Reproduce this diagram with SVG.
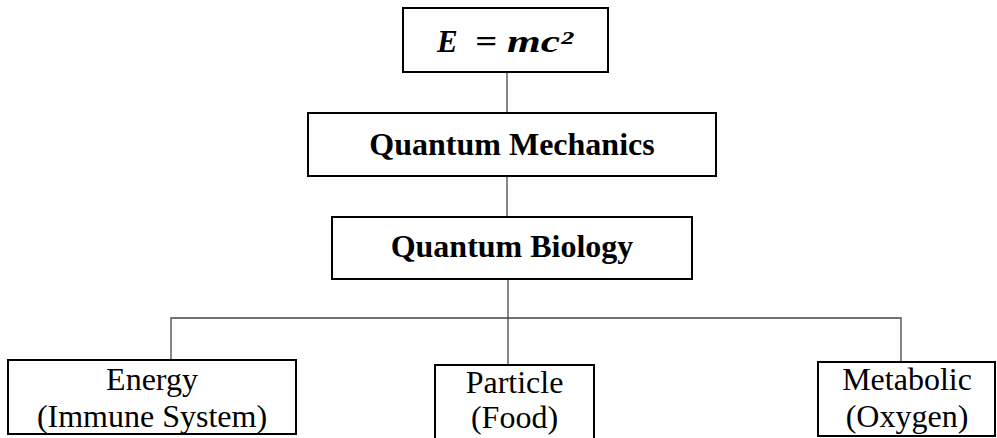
<svg xmlns="http://www.w3.org/2000/svg" width="997" height="438" viewBox="0 0 997 438">
<style>
.box{fill:#fff;stroke:#000;stroke-width:2}
.con{fill:none;stroke:#444;stroke-width:1.3}
.b{font-family:"Liberation Serif","Times New Roman",serif;font-weight:bold;font-size:32px;fill:#000;text-anchor:middle}
.r{font-family:"Liberation Serif","Times New Roman",serif;font-size:32px;fill:#000;text-anchor:middle}
.m{font-family:"Liberation Serif","Times New Roman",serif;font-weight:bold;font-style:italic;font-size:31px;fill:#000}
</style>
<rect width="997" height="438" fill="#fff"/>
<g id="connectors">
<path class="con" d="M507 72V113"/>
<path class="con" d="M507 176V217"/>
<path class="con" d="M508 279V365"/>
<path class="con" d="M171 360V318H901V362"/>
</g>
<g id="emc2">
<rect class="box" x="403" y="8" width="205" height="64"/>
<text class="m" y="52"><tspan x="437">E</tspan><tspan x="475" textLength="22" lengthAdjust="spacingAndGlyphs">=</tspan><tspan x="507" textLength="66" lengthAdjust="spacingAndGlyphs">mc²</tspan></text>
</g>
<g id="quantum-mechanics">
<rect class="box" x="308" y="113" width="408" height="63"/>
<text class="b" x="512" y="155">Quantum Mechanics</text>
</g>
<g id="quantum-biology">
<rect class="box" x="332" y="217" width="360" height="62"/>
<text class="b" x="512" y="257">Quantum Biology</text>
</g>
<g id="energy">
<rect class="box" x="8" y="360" width="288" height="74"/>
<text class="r" x="152" y="390">Energy</text>
<text class="r" x="152" y="427">(Immune System)</text>
</g>
<g id="particle">
<rect class="box" x="435" y="365" width="159" height="80"/>
<text class="r" x="514.5" y="393">Particle</text>
<text class="r" x="514.5" y="428">(Food)</text>
</g>
<g id="metabolic">
<rect class="box" x="818" y="362" width="177" height="74"/>
<text class="r" x="907" y="390">Metabolic</text>
<text class="r" x="907" y="427">(Oxygen)</text>
</g>
</svg>
